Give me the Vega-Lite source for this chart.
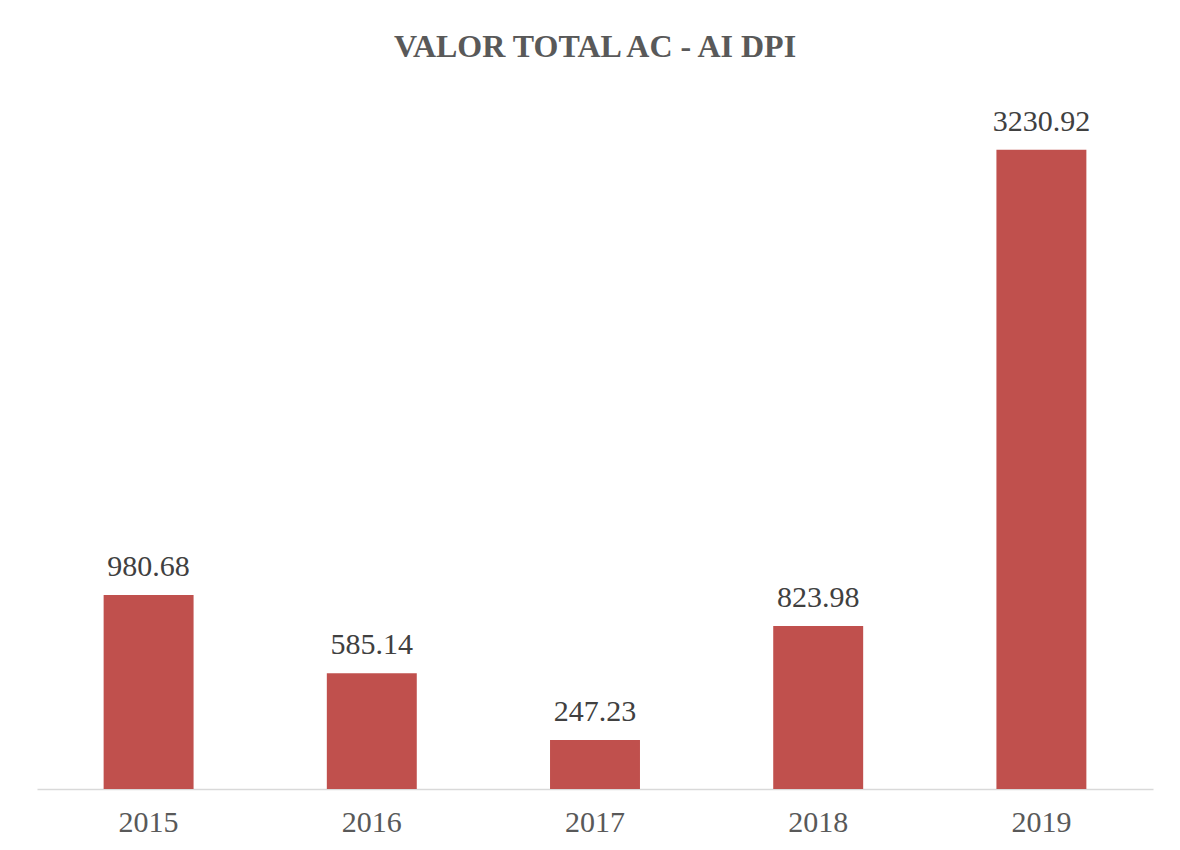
{
  "$schema": "https://vega.github.io/schema/vega-lite/v6.json",
  "width": 1116,
  "height": 689,
  "autosize": {"type": "none"},
  "padding": {"left": 37, "top": 100, "right": 27, "bottom": 61},
  "background": "white",
  "config": {"view": {"stroke": null}, "font": "Liberation Serif"},
  "title": {
    "text": "VALOR TOTAL AC - AI DPI",
    "font": "Liberation Serif",
    "fontSize": 32,
    "fontWeight": "bold",
    "color": "#595959",
    "anchor": "middle",
    "baseline": "bottom",
    "offset": 4
  },
  "data": {
    "values": [
      {"year": "2015", "value": 980.68},
      {"year": "2016", "value": 585.14},
      {"year": "2017", "value": 247.23},
      {"year": "2018", "value": 823.98},
      {"year": "2019", "value": 3230.92}
    ]
  },
  "encoding": {
    "x": {
      "field": "year",
      "type": "nominal",
      "scale": {"paddingInner": 0.597, "paddingOuter": 0.2985},
      "axis": {
        "title": null,
        "labelAngle": 0,
        "labelFont": "Liberation Serif",
        "labelFontSize": 30,
        "labelColor": "#595959",
        "labelPadding": 18,
        "ticks": false,
        "domainColor": "#D9D9D9",
        "domainWidth": 1.5
      }
    },
    "y": {
      "field": "value",
      "type": "quantitative",
      "scale": {"domain": [0, 3483], "nice": false, "zero": true},
      "axis": null
    }
  },
  "layer": [
    {"mark": {"type": "bar", "color": "#C0504D"}},
    {
      "mark": {
        "type": "text",
        "baseline": "bottom",
        "dy": -13,
        "font": "Liberation Serif",
        "fontSize": 30,
        "color": "#404040"
      },
      "encoding": {"text": {"field": "value", "type": "quantitative", "format": ".2f"}}
    }
  ]
}
